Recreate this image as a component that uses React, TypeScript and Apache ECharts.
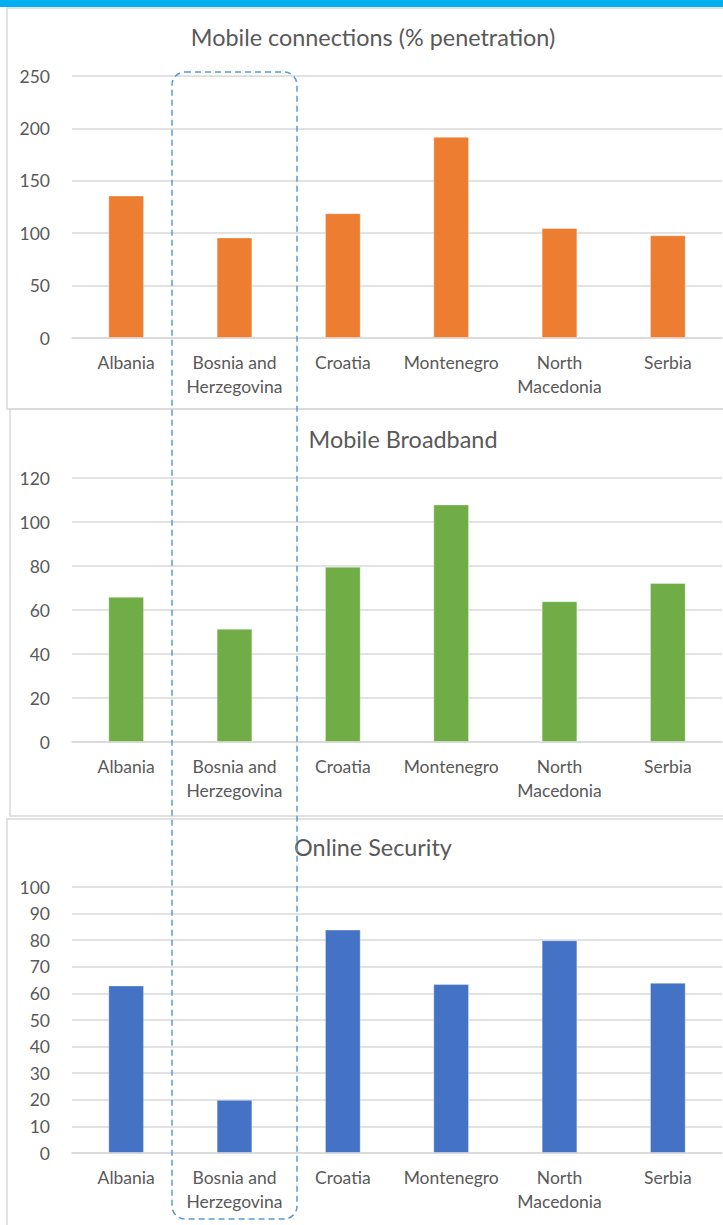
import React, { useEffect, useRef } from "react";
import * as echarts from "echarts";

const categories = ["Albania", "Bosnia and\nHerzegovina", "Croatia", "Montenegro", "North\nMacedonia", "Serbia"];
const mobileConnections = [136, 96, 119, 192, 105, 98];
const mobileBroadband = [66, 51.5, 79.7, 108, 64, 72.3];
const onlineSecurity = [63, 20, 84, 63.5, 80, 64];
const titles = ["Mobile connections (% penetration)", "Mobile Broadband", "Online Security"];
const axisMax = [250, 120, 100];
const axisStep = [50, 20, 10];

const FONT = "Lato";
const GREY = "#595959";
const GRIDC = "#D9D9D9";

export default function App() {
  const ref = useRef<HTMLDivElement>(null);
  useEffect(() => {
    if (!ref.current) return;
    const chart = echarts.init(ref.current, undefined, { renderer: "svg" });
    const grids = [
      { left: 72, width: 650, top: 76, height: 262 },
      { left: 72, width: 650, top: 478, height: 264 },
      { left: 72, width: 650, top: 887, height: 266 },
    ];
    const titlePos = [
      { x: 368, y: 34 },
      { x: 398, y: 436 },
      { x: 368, y: 844 },
    ];
    const seriesData = [mobileConnections, mobileBroadband, onlineSecurity];
    const colors = ["#ED7D31", "#70AD47", "#4472C4"];
    const option: any = {
      animation: false,
      backgroundColor: "#ffffff",
      title: titles.map((t, i) => ({
        text: t,
        left: titlePos[i].x,
        top: titlePos[i].y - 14,
        textAlign: "center",
        textStyle: { fontFamily: FONT, fontSize: 23.4, fontWeight: "normal", color: GREY },
      })),
      grid: grids,
      xAxis: grids.map((_, i) => ({
        type: "category",
        gridIndex: i,
        data: categories,
        axisTick: { show: false },
        axisLine: { lineStyle: { color: GRIDC, width: 1.5 } },
        axisLabel: {
          interval: 0,
          margin: 12,
          fontFamily: FONT,
          fontSize: 17.5,
          color: GREY,
          lineHeight: 24,
          verticalAlign: "top",
        },
      })),
      yAxis: grids.map((_, i) => ({
        type: "value",
        gridIndex: i,
        min: 0,
        max: axisMax[i],
        interval: axisStep[i],
        axisLine: { show: false },
        axisTick: { show: false },
        splitLine: { lineStyle: { color: GRIDC, width: 1.5 } },
        axisLabel: { margin: 22, fontFamily: FONT, fontSize: 17.5, color: GREY },
      })),
      series: seriesData.map((d, i) => ({
        type: "bar",
        xAxisIndex: i,
        yAxisIndex: i,
        data: d,
        barWidth: "33%",
        itemStyle: { color: colors[i], borderColor: "rgba(255,255,255,0.35)", borderWidth: 1 },
      })),
      graphic: [
        { type: "rect", z: 100, shape: { x: 0, y: 0, width: 723, height: 7 }, style: { fill: "#00B0F0" } },
        { type: "rect", z: -1, shape: { x: 7, y: 8, width: 730, height: 401 }, style: { fill: "none", stroke: GRIDC, lineWidth: 1.5 } },
        { type: "rect", z: -1, shape: { x: 10, y: 409, width: 730, height: 407 }, style: { fill: "none", stroke: GRIDC, lineWidth: 1.5 } },
        { type: "rect", z: -1, shape: { x: 7, y: 819, width: 730, height: 420 }, style: { fill: "none", stroke: GRIDC, lineWidth: 1.5 } },
        {
          type: "rect",
          z: 100,
          shape: { x: 172, y: 72, width: 125, height: 1147, r: 13 },
          style: { fill: "none", stroke: "#5B9BD5", lineWidth: 1.5, lineDash: [6, 4] },
        },
      ],
    };
    chart.setOption(option);
    return () => chart.dispose();
  }, []);
  return (
    <div
      ref={ref}
      style={{ position: "fixed", left: 0, top: 0, width: 723, height: 1225, background: "#fff" }}
    />
  );
}
